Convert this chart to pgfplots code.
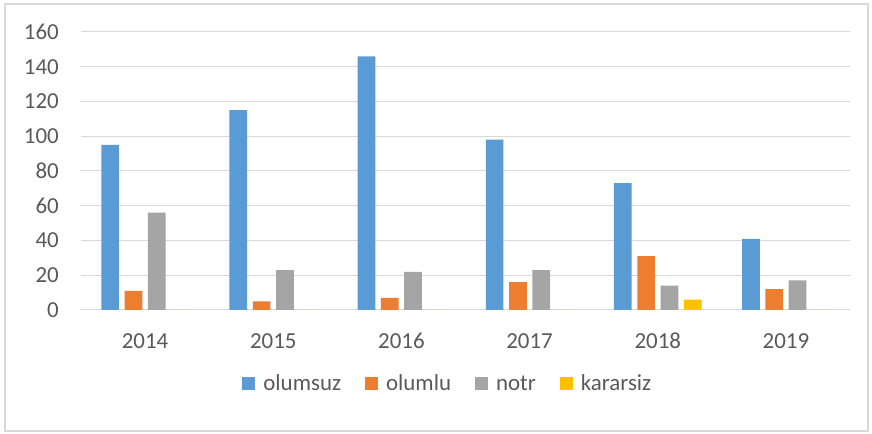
\documentclass[border=0pt]{standalone}
\usepackage{pgfplots}
\pgfplotsset{compat=1.18}
\usepackage{fontspec}
\setmainfont{Carlito}
\definecolor{cblue}{HTML}{5B9BD5}
\definecolor{corange}{HTML}{ED7D31}
\definecolor{cgray}{HTML}{A5A5A5}
\definecolor{cyellow}{HTML}{FFC000}
\definecolor{gridc}{HTML}{D9D9D9}
\definecolor{txt}{HTML}{595959}
\begin{document}
\begin{tikzpicture}
\path[use as bounding box] (0,0) rectangle (872bp,434bp);
\draw[gridc, line width=1.5bp] (5bp,3bp) rectangle (868bp,430bp);
\begin{axis}[
  at={(81bp,124bp)}, anchor=south west,
  scale only axis, width=769bp, height=278bp,
  xmin=-0.5, xmax=5.5, ymin=0, ymax=160,
  ytick={0,20,...,160},
  xtick={0,1,2,3,4,5},
  xticklabels={2014,2015,2016,2017,2018,2019},
  axis line style={draw=none},
  major tick length=0pt,
  ymajorgrids, grid style={gridc, line width=1bp},
  ybar=5.6bp, bar width=17.7bp,
  tick label style={font=\fontsize{23}{27}\selectfont, text=txt},
  /pgf/number format/assume math mode=true,
  yticklabel style={anchor=east, inner sep=0pt, xshift=-22bp},
  xticklabel style={anchor=north, inner sep=0pt, yshift=-23bp},
  legend columns=4,
  legend style={at={(0.477,-0.265)}, anchor=center, draw=none, fill=none,
    font=\fontsize{23}{27}\selectfont, text=txt,
    /tikz/every odd column/.append style={column sep=6bp},
    /tikz/every even column/.append style={column sep=22bp},
    inner sep=0pt},
  legend image code/.code={\fill[#1] (0bp,-6.5bp) rectangle (13bp,6.5bp);},
]
\addplot[fill=cblue, draw=none] coordinates {(0,95) (1,115) (2,146) (3,98) (4,73) (5,41)};
\addplot[fill=corange, draw=none] coordinates {(0,11) (1,5) (2,7) (3,16) (4,31) (5,12)};
\addplot[fill=cgray, draw=none] coordinates {(0,56) (1,23) (2,22) (3,23) (4,14) (5,17)};
\addplot[fill=cyellow, draw=none] coordinates {(0,0) (1,0) (2,0) (3,0) (4,6) (5,0)};
\legend{olumsuz, olumlu, notr, kararsiz}
\end{axis}
\end{tikzpicture}
\end{document}
